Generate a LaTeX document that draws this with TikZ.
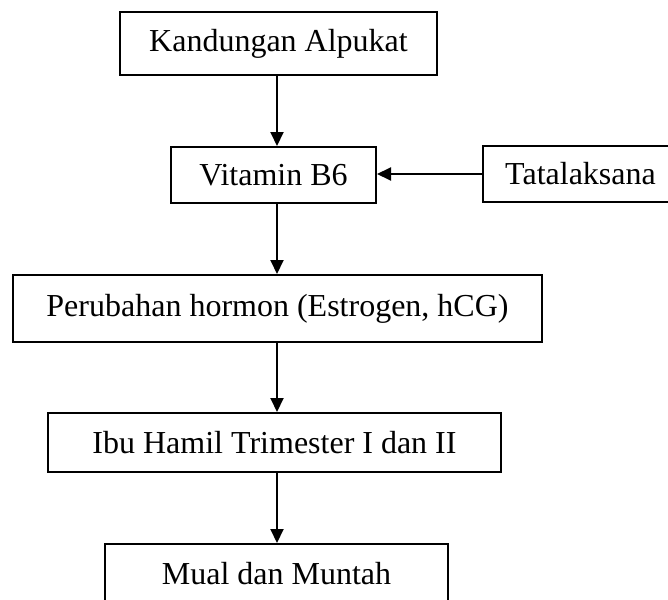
\documentclass[tikz,border=0pt]{standalone}
\usepackage{fontspec}
\setmainfont{Liberation Serif}
\usepackage{tikz}
\usetikzlibrary{arrows.meta,positioning,calc}
\tikzset{
  % flow box
  flowbox/.style={rectangle, draw=black, line width=2pt, fill=white, inner sep=0pt,
                  minimum width=#1, font=\fontsize{32pt}{38pt}\selectfont},
  flowbox/.default={200pt},
  % flow arrow
  flowarrow/.style={-{Triangle[length=14pt,width=13pt]}, line width=2pt, black},
}
\begin{document}
\begin{tikzpicture}[x=1pt, y=-1pt]
  \useasboundingbox (0,0) rectangle (668,599);
  \clip (0,0) rectangle (668,599);
  \coordinate (spine) at (277,0);
  \node[flowbox=317pt, minimum height=63pt] (kandungan) at (278.5,43.5) {Kandungan Alpukat};
  \node[flowbox=205pt, minimum height=56pt] (vitamin) at (273.5,175) {Vitamin B6};
  % box runs past the right edge
  \node[flowbox=193pt, minimum height=54pt, draw=none] (tatalaksana) at (580.5,174) {Tatalaksana};
  \draw[line width=2pt] (tatalaksana.north west) rectangle ($(tatalaksana.south east)+(40,0)$);
  \node[flowbox=529pt, minimum height=67pt] (hormon) at (277.5,308.5) {Perubahan hormon (Estrogen, hCG)};
  \node[flowbox=453pt, minimum height=59pt] (ibu) at (274.5,442.5) {Ibu Hamil Trimester I dan II};
  \node[flowbox=343pt, minimum height=60pt] (mual) at (276.5,574) {Mual dan Muntah};
  \draw[flowarrow] (kandungan.south -| spine) -- (vitamin.north -| spine);
  \draw[flowarrow] (tatalaksana.west) -- (tatalaksana.west -| vitamin.east);
  \draw[flowarrow] (vitamin.south -| spine) -- (hormon.north -| spine);
  \draw[flowarrow] (hormon.south -| spine) -- (ibu.north -| spine);
  \draw[flowarrow] (ibu.south -| spine) -- (mual.north -| spine);
\end{tikzpicture}
\end{document}
